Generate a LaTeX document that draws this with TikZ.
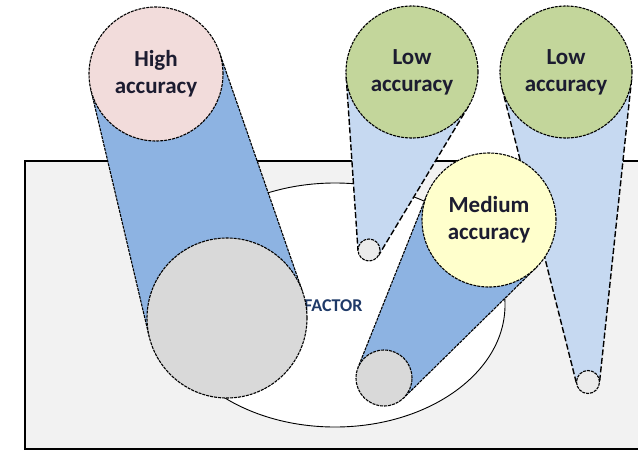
\documentclass[tikz,border=0pt]{standalone}
\usepackage{fontspec}
\setmainfont{Carlito}
\usetikzlibrary{calc,shapes.geometric}
\definecolor{bgc}{HTML}{F2F2F2}
\definecolor{pinkc}{HTML}{F2DCDB}
\definecolor{greenc}{HTML}{C3D69B}
\definecolor{yelc}{HTML}{FFFFCC}
\definecolor{bandc}{HTML}{8DB3E2}
\definecolor{conec}{HTML}{C6D9F1}
\definecolor{grayc}{HTML}{D9D9D9}
\definecolor{smallc}{HTML}{EBEBEB}
\definecolor{txtc}{HTML}{1C1C30}
\definecolor{facc}{HTML}{1F3A68}
\tikzset{
  fine/.style={draw=black, line width=1.1pt, dash pattern=on 3pt off 1pt},
  bubble/.style={circle, fine, inner sep=0pt, align=center, text=txtc,
    font=\fontsize{23}{27}\selectfont\bfseries},
  disk/.style={circle, fine, inner sep=0pt, fill=grayc},
  smalldisk/.style={circle, fine, inner sep=0pt, fill=smallc},
  darkband/.style={fill=bandc, draw=black, line width=1.1pt, dash pattern=on 3pt off 1pt},
  coneband/.style={fill=conec, draw=black, line width=1.4pt, dash pattern=on 6pt off 2.5pt},
}
\newcommand\tband[5]{%
  \path let \p1=(#1), \p2=(#3), \n1={veclen(\x2-\x1,\y2-\y1)},
    \n2={acos((#2-#4)/\n1)}, \n5={-\n2}, \n3={\n2-180}, \n4={180-\n2} in
    coordinate (ta) at ($(#1)!#2pt!\n2:(#3)$)
    coordinate (tb) at ($(#1)!#2pt!\n5:(#3)$)
    coordinate (tc) at ($(#3)!#4pt!\n3:(#1)$)
    coordinate (td) at ($(#3)!#4pt!\n4:(#1)$);
  \fill[#5, draw=none] (ta) -- (tc) -- (td) -- (tb) -- cycle;
  \draw[#5, fill=none] (ta) -- (tc) (tb) -- (td);
}
\begin{document}
\begin{tikzpicture}[x=1pt,y=-1pt]
\useasboundingbox (0,0) rectangle (638,451);
% background panel
\draw[fill=bgc, line width=1.5pt] (25,161) rectangle (648,449);
\node[draw=black, line width=0.9pt, fill=white, ellipse, inner sep=0pt,
  minimum width=340pt, minimum height=244pt] (fac) at (335,305) {};
\node[anchor=base west, inner sep=0pt, text=facc, font=\fontsize{18}{20}\selectfont\bfseries] (factxt) at (304,311) {FACTOR};
% centres
\coordinate (hic) at (156,74);
\coordinate (hgc) at (227,318);
\coordinate (l1c) at (412,72);
\coordinate (s1c) at (369,250);
\coordinate (l2c) at (566,72);
\coordinate (s2c) at (588,382);
\coordinate (mec) at (489,220);
\coordinate (mgc) at (384,378);
% high accuracy
\tband{hic}{67}{hgc}{80}{darkband}
\node[disk, minimum size=160pt] (hg) at (hgc) {};
\node[bubble, fill=pinkc, minimum size=134pt] (hi) at (hic) {High\\accuracy};
% low accuracy 1
\tband{l1c}{66}{s1c}{11}{coneband}
\node[smalldisk, minimum size=22pt] (s1) at (s1c) {};
\node[bubble, fill=greenc, minimum size=132pt] (l1) at (l1c) {Low\\accuracy};
% low accuracy 2
\tband{l2c}{66}{s2c}{11.5}{coneband}
\node[smalldisk, minimum size=23pt] (s2) at (s2c) {};
\node[bubble, fill=greenc, minimum size=132pt] (l2) at (l2c) {Low\\accuracy};
% medium accuracy
\tband{mec}{67}{mgc}{28}{darkband}
\node[disk, minimum size=56pt] (mg) at (mgc) {};
\node[bubble, fill=yelc, minimum size=134pt] (me) at (mec) {Medium\\accuracy};
\end{tikzpicture}
\end{document}
